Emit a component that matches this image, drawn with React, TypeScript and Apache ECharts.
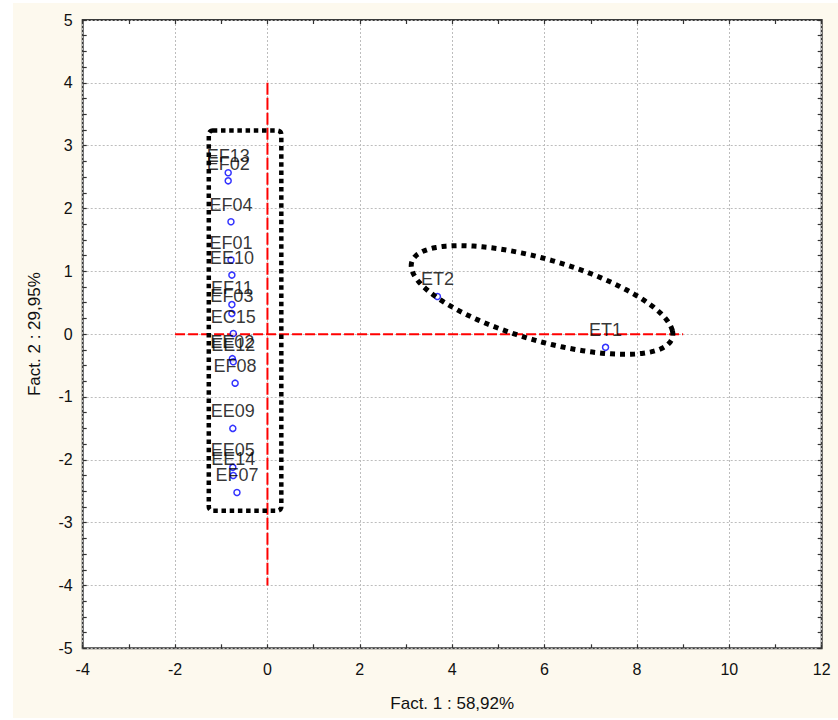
import React, { useEffect, useRef } from "react";
import * as echarts from "echarts";

// ---- data ----
const pointNames = ["EF13", "EF02", "EF04", "EF01", "EE10", "EF11", "EF03", "EC15", "EE02", "EE12", "EF08", "EE09", "EE05", "EE14", "EF07", "ET2", "ET1"];
const pointX = [-0.85, -0.85, -0.79, -0.79, -0.77, -0.77, -0.77, -0.74, -0.76, -0.74, -0.7, -0.75, -0.75, -0.74, -0.66, 3.68, 7.32];
const pointY = [2.57, 2.44, 1.79, 1.18, 0.94, 0.47, 0.33, 0.01, -0.39, -0.44, -0.78, -1.5, -2.12, -2.25, -2.52, 0.6, -0.21];

const xRange = [-4, 12];
const yRange = [-5, 5];
const xTitle = "Fact. 1 : 58,92%";
const yTitle = "Fact. 2 : 29,95%";

// reference lines (data coords)
const vLine = [[0, 4], [0, -4]];
const hLine = [[-2, 0], [9, 0]];

// group outlines (data coords)
const rectX = [-1.27, 0.3];
const rectY = [-2.81, 3.24];
const ellipseCenter = [5.945, 0.544];
const ellipseAxisU = [2.823, -0.49];
const ellipseAxisV = [-0.229, 0.713];

const FONT = "'Liberation Sans', Arial, sans-serif";

export default function App() {
  const ref = useRef<HTMLDivElement>(null);

  useEffect(() => {
    if (!ref.current) return;
    const chart = echarts.init(ref.current, null, { renderer: "svg" });

    const axisCommon = {
      axisLine: { show: false, onZero: false },
      axisTick: { show: true, inside: true, length: 4, lineStyle: { color: "#333", width: 1.2 } },
      minorTick: { show: true, length: 4, lineStyle: { color: "#333", width: 1.2 } },
    };

    const scatterData = pointX.map((x, i) => ({ name: pointNames[i], value: [x, pointY[i]] }));

    const option: any = {
      animation: false,
      backgroundColor: "transparent",
      grid: {
        left: 82.7,
        right: 16.3,
        top: 20,
        bottom: 71.7,
        show: true,
        backgroundColor: "#ffffff",
        borderColor: "#3a3a3a",
        borderWidth: 2,
      },
      xAxis: [
        {
          ...axisCommon,
          type: "value",
          position: "bottom",
          min: xRange[0],
          max: xRange[1],
          interval: 2,
          minorTick: { ...axisCommon.minorTick, splitNumber: 2 },
          axisLabel: { color: "#111", fontSize: 16, fontFamily: FONT, margin: 13 },
          splitLine: { show: true, lineStyle: { color: "#bdbdbd", type: [2, 2], width: 1 } },
          name: xTitle,
          nameLocation: "middle",
          nameGap: 47,
          nameTextStyle: { color: "#111", fontSize: 17, fontFamily: FONT },
        },
        {
          ...axisCommon,
          type: "value",
          position: "top",
          min: xRange[0],
          max: xRange[1],
          interval: 2,
          minorTick: { ...axisCommon.minorTick, splitNumber: 2 },
          axisLabel: { show: false },
          splitLine: { show: false },
        },
      ],
      yAxis: [
        {
          ...axisCommon,
          type: "value",
          position: "left",
          min: yRange[0],
          max: yRange[1],
          interval: 1,
          minorTick: { ...axisCommon.minorTick, splitNumber: 4 },
          axisLabel: { color: "#111", fontSize: 16, fontFamily: FONT, margin: 10 },
          splitLine: { show: true, lineStyle: { color: "#bdbdbd", type: [2, 2], width: 1 } },
          name: yTitle,
          nameLocation: "middle",
          nameGap: 40,
          nameRotate: 90,
          nameTextStyle: { color: "#111", fontSize: 17, fontFamily: FONT },
        },
        {
          ...axisCommon,
          type: "value",
          position: "right",
          min: yRange[0],
          max: yRange[1],
          interval: 1,
          minorTick: { ...axisCommon.minorTick, splitNumber: 4 },
          axisLabel: { show: false },
          splitLine: { show: false },
        },
      ],
      series: [
        {
          type: "line",
          data: vLine,
          symbol: "none",
          silent: true,
          z: 2,
          lineStyle: { color: "#ff0000", width: 2, type: [12, 3] },
        },
        {
          type: "line",
          data: hLine,
          symbol: "none",
          silent: true,
          z: 2,
          lineStyle: { color: "#ff0000", width: 2, type: [10, 3] },
        },
        {
          type: "scatter",
          data: scatterData,
          symbol: "circle",
          symbolSize: 6,
          z: 3,
          itemStyle: { color: "#ffffff", borderColor: "#0000ff", borderWidth: 1.5 },
          label: {
            show: true,
            formatter: "{b}",
            position: "inside",
            offset: [0, -17],
            color: "#000",
            fontSize: 18,
            fontFamily: FONT,
          },
        },
        {
          type: "custom",
          silent: true,
          clip: false,
          z: 4,
          data: [[0, 0]],
          renderItem: (_params: any, api: any) => {
            const p1 = api.coord([rectX[0], rectY[1]]);
            const p2 = api.coord([rectX[1], rectY[0]]);
            return {
              type: "rect",
              shape: { x: p1[0], y: p1[1], width: p2[0] - p1[0], height: p2[1] - p1[1], r: 4 },
              style: { fill: "none", stroke: "#000", lineWidth: 4.5, lineDash: [4.5, 3.7] },
            };
          },
        },
        {
          type: "custom",
          silent: true,
          clip: false,
          z: 4,
          data: [[0, 0]],
          renderItem: (_params: any, api: any) => {
            const pts: number[][] = [];
            const n = 160;
            for (let i = 0; i < n; i++) {
              const t = (i / n) * Math.PI * 2;
              const c = Math.cos(t);
              const s = Math.sin(t);
              pts.push(
                api.coord([
                  ellipseCenter[0] + ellipseAxisU[0] * c + ellipseAxisV[0] * s,
                  ellipseCenter[1] + ellipseAxisU[1] * c + ellipseAxisV[1] * s,
                ])
              );
            }
            return {
              type: "polygon",
              shape: { points: pts },
              style: { fill: "none", stroke: "#000", lineWidth: 5, lineDash: [5, 5] },
            };
          },
        },
      ],
    };

    chart.setOption(option);
    return () => chart.dispose();
  }, []);

  return (
    <div style={{ position: "fixed", left: 0, top: 0, width: 838, height: 720, background: "#ffffff" }}>
      <div style={{ position: "absolute", left: 13, top: 3, width: 825, height: 715, background: "#fdf9ee" }} />
      <div ref={ref} style={{ position: "absolute", left: 0, top: 0, width: 838, height: 720 }} />
    </div>
  );
}
